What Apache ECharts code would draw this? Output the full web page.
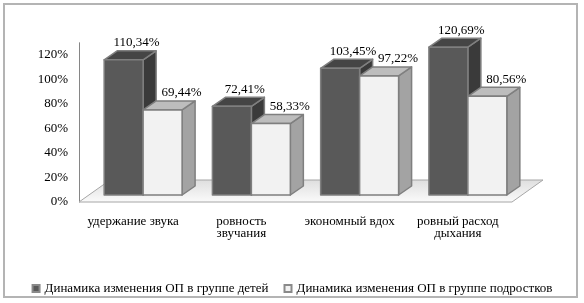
<!DOCTYPE html>
<html>
<head>
<meta charset="utf-8">
<script src="https://cdn.jsdelivr.net/npm/echarts@6/dist/echarts.min.js"></script>
<style>
  html, body { margin: 0; padding: 0; background: #fff; }
  #chart { width: 584px; height: 303px; }
</style>
</head>
<body>
<div id="chart"></div>
<script>
// данные диаграммы
var categories = ['удержание звука', 'ровность\nзвучания', 'экономный вдох', 'ровный расход\nдыхания'];
var childrenValues = [110.34, 72.41, 103.45, 120.69];
var teenValues = [69.44, 58.33, 97.22, 80.56];
var seriesNames = ['Динамика изменения ОП в группе детей', 'Динамика изменения ОП в группе подростков'];
var yStep = 20;
var yMax = 130;

var font = '"Liberation Serif", "Times New Roman", serif';

// псевдо-3D: смещение глубины
var DX = 13, DY = -9;
var SHIFT_X = 10, SHIFT_Y = -7;
var faces = [
  { front: '#595959', top: '#454545', side: '#3a3a3a', labelOff: 13 },
  { front: '#f2f2f2', top: '#bdbdbd', side: '#a3a3a3', labelOff: 19 }
];

function fmt(v) {
  return v.toFixed(2).replace('.', ',') + '%';
}

function barRenderer(s) {
  return function (params, api) {
    var i = api.value(0);
    var v = api.value(1);
    var base = api.coord([i, 0]);
    var topPt = api.coord([i, v]);
    var bw = api.size([1, 0])[0] * 0.36;
    var x0 = base[0] + SHIFT_X - bw + s * bw;
    var yb = base[1] + SHIFT_Y;
    var yt = topPt[1] + SHIFT_Y;
    var f = faces[s];
    var stroke = { stroke: '#7f7f7f', lineWidth: 1.5, lineJoin: 'round' };
    return {
      type: 'group',
      children: [
        {
          type: 'polygon',
          shape: { points: [[x0 + bw, yt], [x0 + bw + DX, yt + DY], [x0 + bw + DX, yb + DY], [x0 + bw, yb]] },
          style: Object.assign({ fill: f.side }, stroke)
        },
        {
          type: 'polygon',
          shape: { points: [[x0, yt], [x0 + bw, yt], [x0 + bw + DX, yt + DY], [x0 + DX, yt + DY]] },
          style: Object.assign({ fill: f.top }, stroke)
        },
        {
          type: 'rect',
          shape: { x: x0, y: yt, width: bw, height: yb - yt },
          style: Object.assign({ fill: f.front }, stroke)
        },
        {
          type: 'text',
          style: {
            text: fmt(v),
            x: x0 + bw / 2 + f.labelOff,
            y: yt - 17,
            align: 'center',
            verticalAlign: 'middle',
            font: '13px ' + font,
            fill: '#000'
          }
        }
      ]
    };
  };
}

function floorRenderer(params, api) {
  var cs = params.coordSys;
  var y0 = api.coord([0, 0])[1];
  var xl = cs.x, xr = cs.x + cs.width;
  return {
    type: 'polygon',
    shape: { points: [[xl, y0], [xr, y0], [xr + 31, y0 - 22], [xl + 31, y0 - 22]] },
    style: {
      fill: new echarts.graphic.LinearGradient(0, 0, 0, 1, [
        { offset: 0, color: '#dedede' },
        { offset: 1, color: '#fbfbfb' }
      ]),
      stroke: '#a6a6a6',
      lineWidth: 1
    }
  };
}

var chart = echarts.init(document.getElementById('chart'));

var option = {
  animation: false,
  textStyle: { fontFamily: font },
  graphic: [{
    type: 'rect',
    shape: { x: 4, y: 4, width: 573, height: 293 },
    style: { fill: 'none', stroke: '#b4b4b4', lineWidth: 2 },
    z: -10
  }],
  grid: { left: 79, right: 72, top: 42.75, bottom: 101 },
  legend: {
    left: 'center',
    top: 277,
    itemWidth: 7,
    itemHeight: 7,
    itemGap: 15,
    icon: 'rect',
    textStyle: { fontFamily: font, fontSize: 13, color: '#000' },
    data: seriesNames
  },
  xAxis: {
    type: 'category',
    data: categories,
    axisLine: { show: false },
    axisTick: { show: false },
    axisLabel: {
      margin: 14,
      fontFamily: font,
      fontSize: 13,
      lineHeight: 12,
      color: '#000',
      interval: 0
    }
  },
  yAxis: {
    type: 'value',
    min: 0,
    max: yMax,
    interval: yStep,
    axisLine: { show: true, lineStyle: { color: '#868686', width: 1 } },
    axisTick: { show: false },
    splitLine: { show: false },
    axisLabel: {
      margin: 11,
      fontFamily: font,
      fontSize: 13,
      color: '#000',
      formatter: function (v) { return v % yStep ? '' : v + '%'; }
    }
  },
  series: [
    {
      type: 'custom',
      name: 'floor',
      renderItem: floorRenderer,
      data: [[0, 0]],
      silent: true,
      z: 1
    },
    {
      type: 'custom',
      name: seriesNames[0],
      renderItem: barRenderer(0),
      data: childrenValues.map(function (v, i) { return [i, v]; }),
      encode: { x: 0, y: 1 },
      itemStyle: { color: '#595959', borderColor: '#8a8a8a', borderWidth: 1 },
      z: 2
    },
    {
      type: 'custom',
      name: seriesNames[1],
      renderItem: barRenderer(1),
      data: teenValues.map(function (v, i) { return [i, v]; }),
      encode: { x: 0, y: 1 },
      itemStyle: { color: '#f2f2f2', borderColor: '#8a8a8a', borderWidth: 1 },
      z: 3
    }
  ]
};

chart.setOption(option);
</script>
</body>
</html>
